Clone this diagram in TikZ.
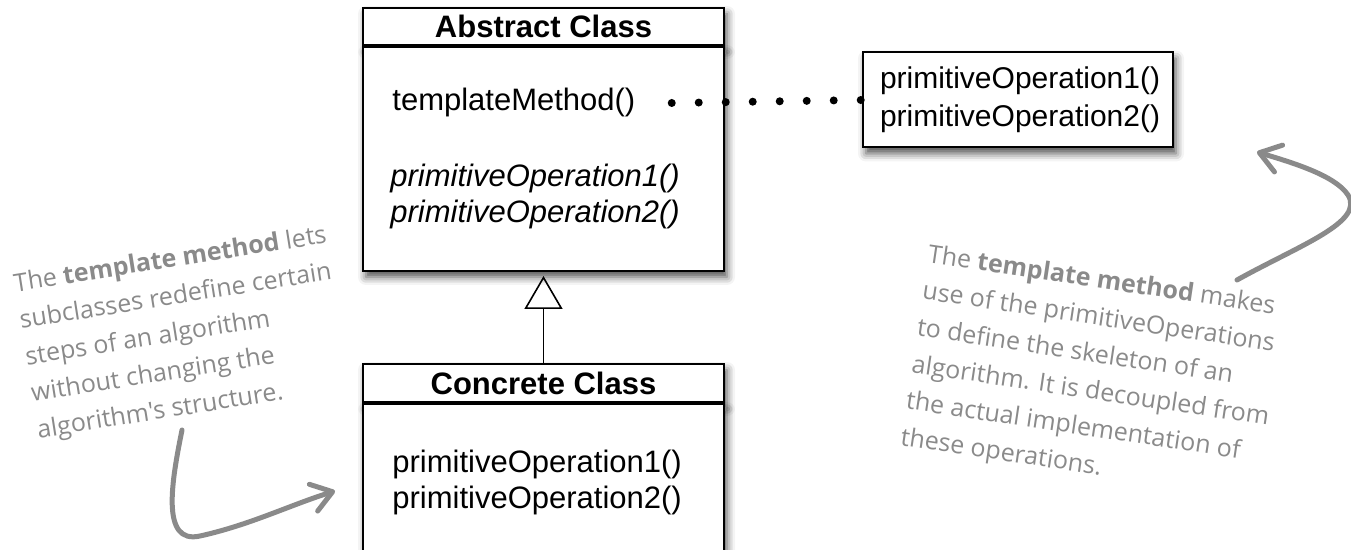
\documentclass[tikz,border=0pt]{standalone}
\usepackage{fontspec}
\setmainfont{Liberation Sans}
\newfontfamily\notefont{Open Sans}
\usetikzlibrary{arrows.meta,positioning,shadows.blur}
\definecolor{notegray}{RGB}{138,138,138}
\newcommand{\clsfont}{\fontsize{15.5}{19}\selectfont}

\begin{document}
\begin{tikzpicture}[x=0.5pt,y=-0.5pt,
  box/.style={draw,line width=1pt,fill=white,inner sep=0pt,
    blur shadow={shadow xshift=1.5pt,shadow yshift=-3pt,shadow blur radius=4pt,shadow opacity=70}},
  head/.style={box,minimum width=180.5pt,minimum height=18.5pt,font=\clsfont\bfseries},
  body/.style={box,minimum width=180.5pt},
  txt/.style={anchor=base west,inner sep=0pt,font=\clsfont},
  note/.style={inner sep=0pt,align=left,text=notegray,font=\notefont\fontsize{12.5}{18.5}\selectfont},
  curvearrow/.style={draw=notegray,line width=2.5pt,line cap=round,-{Straight Barb[round,length=10pt,width=14pt]}},
  dots/.style={line width=4pt,line cap=round,dash pattern=on 0pt off 13.5pt}]

\useasboundingbox (0,0) rectangle (1351,550);

\node[head] (abshead) at (543.5,26.5) {Abstract Class};
\node[body,below=0pt of abshead,minimum height=112pt] (absbody) {};
\node[txt] (tmpl) at (392,111) {templateMethod()};
\node[txt,font=\clsfont\itshape] (absop1) at (390,187) {primitiveOperation1()};
\node[txt,font=\clsfont\itshape] (absop2) at (390,223) {primitiveOperation2()};

\node[box,align=left,text width=138pt,inner xsep=8.5pt,minimum height=47.5pt,font=\fontsize{15}{19}\selectfont] (ops) at (1018,100) {primitiveOperation1()\\primitiveOperation2()};

\node[head,minimum height=19pt] (conhead) at (543.5,383) {Concrete Class};
\node[body,below=0pt of conhead,minimum height=86pt] (conbody) {};
\node[txt] (conop1) at (392,473) {primitiveOperation1()};
\node[txt] (conop2) at (392,509) {primitiveOperation2()};

\draw[dots] ([xshift=18pt]tmpl.east) -- (ops.west);
\draw[line width=0.8pt,-{Triangle[open,length=16.5pt,width=19pt]},shorten >=2pt] (conhead) -- (absbody);

\node[note,rotate=9] (lnote) at (182,334) {The \textbf{template method} lets\\subclasses redefine certain\\steps of an algorithm\\without changing the\\algorithm's structure.};
\node[note,rotate=-8.5] (rnote) at (1093,374) {The \textbf{template method} makes\\use of the primitiveOperations\\to define the skeleton of an\\algorithm. It is decoupled from\\the actual implementation of\\these operations.};

\coordinate (lstart) at (182,430);
\coordinate (lend) at (335,491);
\coordinate (rstart) at (1237,280);
\coordinate (rend) at (1257,152);
\draw[curvearrow] (lstart) .. controls (172,480) and (160,545) .. (200,536) .. controls (250,525) and (290,505) .. (lend);
\draw[curvearrow] (rstart) .. controls (1300,245) and (1365,222) .. (1348,195) .. controls (1335,175) and (1290,162) .. (rend);

\end{tikzpicture}
\end{document}
